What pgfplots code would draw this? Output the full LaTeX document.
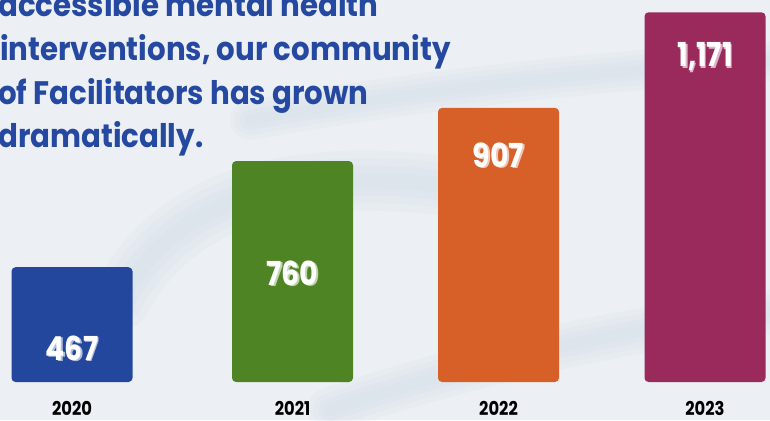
\documentclass[border=0pt]{standalone}
\usepackage{fontspec}
\setmainfont{Poppins}
\newfontfamily\titlefont{Poppins}[FakeStretch=0.9]
\newfontfamily\numfont{Poppins}[FakeStretch=0.86]
\usepackage{pgfplots}
\pgfplotsset{compat=1.18}
\definecolor{bg}{RGB}{236,240,244}
\definecolor{streak}{RGB}{208,218,231}
\definecolor{cblue}{RGB}{35,71,156}
\definecolor{cgreen}{RGB}{78,132,36}
\definecolor{corange}{RGB}{214,96,39}
\definecolor{cmaroon}{RGB}{155,42,92}
\definecolor{ctitle}{RGB}{37,73,160}
\newcommand{\vlab}[4]{%
  \node[text=#4!35!white, font=\numfont\fontsize{33}{33}\selectfont\bfseries, inner sep=0] at ([xshift=1.8pt,yshift=-1.5pt]axis cs:#1,#2) {#3};
  \node[text=white, font=\numfont\fontsize{33}{33}\selectfont\bfseries, inner sep=0] at (axis cs:#1,#2) {#3};}
\newcommand{\softstreak}[2]{%
  \foreach \w in {1.0,0.75,0.5,0.25}{%
    \draw[streak, opacity=0.16, line width=\w*#1, line cap=round] #2;}}
\begin{document}
\begin{tikzpicture}
\useasboundingbox (0pt,0pt) rectangle (770pt,420pt);
\fill[bg] (0pt,0pt) rectangle (770pt,420pt);
\clip (0pt,0pt) rectangle (770pt,420pt);
% faint brush streaks of the paper background
\softstreak{60pt}{(120pt,120pt) .. controls (180pt,230pt) and (300pt,250pt) .. (440pt,235pt)}
\softstreak{45pt}{(330pt,10pt) .. controls (480pt,60pt) and (640pt,95pt) .. (790pt,110pt)}
\softstreak{40pt}{(250pt,300pt) .. controls (420pt,330pt) and (600pt,350pt) .. (790pt,360pt)}
\begin{scope}[every node/.style={anchor=base west, inner sep=0, text=ctitle, font=\titlefont\fontsize{32.5}{32.5}\selectfont\bfseries}]
\node at (-2pt,403pt) {accessible mental health};
\node at (0pt,359pt) {interventions, our community};
\node at (-2pt,315.5pt) {of Facilitators has grown};
\node at (-2pt,272pt) {dramatically.};
\end{scope}
\begin{axis}[at={(0pt,38pt)}, anchor=south west, scale only axis,
  width=770pt, height=382pt, xmin=0, xmax=770, ymin=150, ymax=1205,
  axis x line=bottom, axis y line=none, x axis line style={draw=none},
  major tick length=0, xtick={72,292.5,498.5,705},
  xticklabels={2020,2021,2022,2023},
  xticklabel style={font=\numfont\fontsize{19}{19}\selectfont\bfseries, anchor=north, inner sep=0pt, yshift=-19pt},
  ytick=\empty]
\addplot[ybar, bar shift=0pt, bar width=121, fill=cblue, draw=none, rounded corners=4pt] coordinates {(72,467)};
\addplot[ybar, bar shift=0pt, bar width=121, fill=cgreen, draw=none, rounded corners=4pt] coordinates {(292.5,760)};
\addplot[ybar, bar shift=0pt, bar width=121, fill=corange, draw=none, rounded corners=4pt] coordinates {(498.5,907)};
\addplot[ybar, bar shift=0pt, bar width=121, fill=cmaroon, draw=none, rounded corners=4pt] coordinates {(705,1171)};
\vlab{72}{244}{467}{cblue}
\vlab{292.5}{451}{760}{cgreen}
\vlab{498.5}{777}{907}{corange}
\vlab{705}{1048}{1,171}{cmaroon}
\end{axis}
\end{tikzpicture}
\end{document}
